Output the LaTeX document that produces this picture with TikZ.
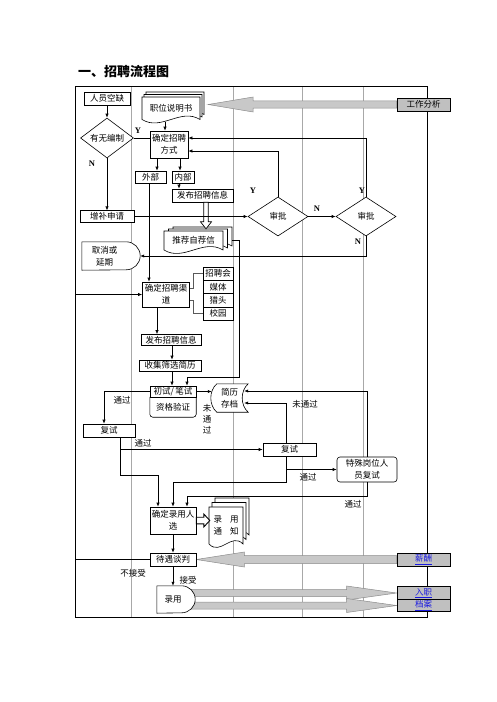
\documentclass[tikz,border=0pt]{standalone}
\usepackage{fontspec}
\setmainfont{Noto Sans CJK SC}
\newfontfamily\latf{Liberation Serif}
\usetikzlibrary{arrows.meta,shapes.geometric,calc}
\pgfdeclarelayer{bg}
\pgfdeclarelayer{mid}
\pgfsetlayers{bg,mid,main}
\definecolor{boxgray}{HTML}{C0C0C0}
\definecolor{arrgray}{HTML}{C8C8C8}
\definecolor{arredge}{HTML}{8C8C8C}
\definecolor{lanegray}{HTML}{A8A8A8}
\definecolor{linkblue}{HTML}{1A1AE0}
\newcommand{\rsonedoc}[4]{%
  \pgfmathsetmacro\rsxa{#1}\pgfmathsetmacro\rsya{#2}%
  \pgfmathsetmacro\rsxb{#3}\pgfmathsetmacro\rsyb{#4}%
  \pgfmathsetmacro\rsw{(\rsxb-\rsxa)/3}%
  \filldraw[docst] (\rsxa,\rsya) -- (\rsxb,\rsya) -- (\rsxb,\rsyb)
    .. controls ({\rsxb-\rsw},{\rsyb-12}) and ({\rsxa+\rsw},{\rsyb+12}) .. (\rsxa,\rsyb) -- cycle;}
\newcommand{\rsdocstack}[6]{%
  \rsonedoc{#1+2*#5}{#2-2*#6}{#3+2*#5}{#4-2*#6}%
  \rsonedoc{#1+#5}{#2-#6}{#3+#5}{#4-#6}%
  \rsonedoc{#1}{#2}{#3}{#4}}
\tikzset{
 bx/.style={draw, fill=white, line width=0.6pt, inner sep=0pt, align=center},
 txt/.style={inner sep=0pt, align=center},
 dm/.style={draw, fill=white, diamond, aspect=1.5, inner sep=0pt, line width=0.6pt},
 arr/.style={draw, line width=0.6pt, -{Latex[length=4pt,width=3.2pt]}},
 ln/.style={draw, line width=0.6pt},
 lbl/.style={inner sep=0pt},
 yn/.style={inner sep=0pt, font=\latf\bfseries\fontsize{8.5}{10}\selectfont},
 gbox/.style={draw, fill=boxgray, line width=0.8pt, inner sep=0pt, minimum width=53pt, minimum height=13pt},
 bigarr/.style={fill=arrgray, draw=arredge, line width=0.5pt},
 hollow/.style={fill=white, draw, line width=0.7pt},
 lane/.style={draw=lanegray, line width=0.5pt},
 brk/.style={draw=black!65, line width=1pt},
 docst/.style={fill=white, draw, line width=0.6pt},
}
\begin{document}
\begin{tikzpicture}[x=1pt,y=-1pt,font=\fontsize{8.5}{12}\selectfont]
\useasboundingbox (0,0) rectangle (496,702);

\node[anchor=west, inner sep=0pt, font=\fontsize{13}{15}\selectfont\bfseries] (title) at (78,72) {一、招聘流程图};

% document stacks
\begin{pgfonlayer}{mid}
\rsdocstack{142}{97}{200}{119.5}{2}{2.5}
\rsdocstack{164}{231}{223}{250}{4.5}{2}
\rsdocstack{209}{507}{243}{544}{3}{4.5}
\end{pgfonlayer}

% nodes
\node[bx, minimum width=46pt, minimum height=13pt] (n1) at (107,98.5) {人员空缺};
\node[txt, minimum width=58pt, minimum height=22pt] (zsm) at (171,108.5) {职位说明书};
\node[dm, minimum width=53pt, minimum height=40pt] (zw) at (107,138) {有无编制};
\node[bx, minimum width=38pt, minimum height=27pt] (jd) at (169,144.5) {确定招聘\\方式};
\node[bx, minimum width=31pt, minimum height=12pt] (wb) at (150.5,177) {外部};
\node[bx, minimum width=22pt, minimum height=12pt] (nb) at (183,177) {内部};
\node[bx, minimum width=61pt, minimum height=13pt] (fb1) at (202.5,195.5) {发布招聘信息};
\node[bx, minimum width=54pt, minimum height=11.5pt] (zb) at (107,216.5) {增补申请};
\node[dm, minimum width=60pt, minimum height=39pt] (sp1) at (278,216.5) {审批};
\node[dm, minimum width=60pt, minimum height=39pt] (sp2) at (366,216.5) {审批};
\node[txt, minimum width=59pt, minimum height=19pt] (tj) at (193.5,240.5) {推荐自荐信};
\node[txt, minimum width=58pt, minimum height=28pt] (qx) at (111,256) {取消或\kern13pt\\延期\kern13pt};
\node[bx, minimum width=47pt, minimum height=25pt] (jq) at (166,294.5) {确定招聘渠\\道};
\node[bx, minimum width=30pt, minimum height=13.3pt] (ch1) at (218,273.7) {招聘会};
\node[bx, minimum width=30pt, minimum height=13.3pt] (ch2) at (218,287) {媒体};
\node[bx, minimum width=30pt, minimum height=13.3pt] (ch3) at (218,300.3) {猎头};
\node[bx, minimum width=30pt, minimum height=13.3pt] (ch4) at (218,313.6) {校园};
\node[bx, minimum width=60pt, minimum height=11pt] (fb2) at (171,340) {发布招聘信息};
\node[bx, minimum width=62pt, minimum height=11pt] (sj) at (170,365.5) {收集筛选简历};
\node[bx, minimum width=46pt, minimum height=11pt] (cs) at (173,391.5) {初试/\,笔试};
\node[txt, minimum width=46pt, minimum height=20pt] (zg) at (173,407) {资格验证};
\node[txt, minimum width=37pt, minimum height=28pt] (jy) at (229.5,398) {简历\\存档};
\node[bx, minimum width=52pt, minimum height=13pt] (fs1) at (109,430.5) {复试};
\node[bx, minimum width=53pt, minimum height=13pt] (fs2) at (289.5,449.5) {复试};
\node[bx, rounded corners=3pt, minimum width=60pt, minimum height=25pt] (ts) at (367,469.5) {特殊岗位人\\员复试};
\node[bx, minimum width=46pt, minimum height=27pt] (ly) at (173,520.5) {确定录用人\\选};
\node[txt, minimum width=34pt, minimum height=37pt] (tz) at (226,525.5) {录\hspace{8pt}用\\通\hspace{8pt}知};
\node[bx, minimum width=46pt, minimum height=13pt] (dy) at (173,559.5) {待遇谈判};
\node[txt, minimum width=38pt, minimum height=27pt] (lu) at (176,599.5) {录用\kern6pt};
\node[gbox] (gz) at (423.5,104.5) {工作分析};
\node[gbox] (xc) at (423.5,559.5) {\textcolor{linkblue}{\underline{薪酬}}};
\node[gbox, minimum height=12.5pt] (rz) at (423.5,593) {\textcolor{linkblue}{\underline{入职}}};
\node[gbox, minimum height=12.5pt] (da) at (423.5,605.5) {\textcolor{linkblue}{\underline{档案}}};

% special shapes
\begin{pgfonlayer}{mid}
\filldraw[docst] (qx.north west) -- ([xshift=-14pt]qx.north east) arc[start angle=90,end angle=-90,radius=14pt] -- (qx.south west) -- cycle;
\filldraw[docst] (lu.north west) -- ([xshift=-13.5pt]lu.north east) arc[start angle=90,end angle=-90,radius=13.5pt] -- (lu.south west) -- cycle;
\filldraw[docst] ([xshift=6pt]jy.north west) -- (jy.north east)
  .. controls ([xshift=-8pt,yshift=-7pt]jy.north east) and ([xshift=-8pt,yshift=7pt]jy.south east) .. (jy.south east)
  -- ([xshift=6pt]jy.south west)
  .. controls ([xshift=-2pt,yshift=7pt]jy.south west) and ([xshift=-2pt,yshift=-7pt]jy.north west) .. ([xshift=6pt]jy.north west) -- cycle;
\filldraw[docst, rounded corners=3pt] (zg.north west) -- (zg.south west) -- (zg.south east) -- (zg.north east);
\end{pgfonlayer}

% background: frame, lanes, big arrows
\begin{pgfonlayer}{bg}
\draw[lane] (131.5,86) -- (131.5,617);
\draw[lane] (233,86) -- (233,617);
\draw[lane] (302,86) -- (302,617);
\draw[lane] (363,86) -- (363,617);
\draw[line width=0.8pt] (75,86) rectangle (427,617);
\path[bigarr] let \p1=(gz.west), \p2=([xshift=8pt]zsm.east) in
  (\x1,\y1+3.7pt) -- (\x2+45pt,\y1+3.7pt) -- (\x2+45pt,\y1+7.5pt) -- (\x2,\y1)
  -- (\x2+45pt,\y1-7.5pt) -- (\x2+45pt,\y1-3.7pt) -- (\x1,\y1-3.7pt) -- cycle;
\path[bigarr] let \p1=(xc.west), \p2=(dy.east) in
  (\x1,\y1+4pt) -- (\x2+48pt,\y1+4pt) -- (\x2+48pt,\y1+7.5pt) -- (\x2,\y1)
  -- (\x2+48pt,\y1-7.5pt) -- (\x2+48pt,\y1-4pt) -- (\x1,\y1-4pt) -- cycle;
\path[bigarr] let \p1=(lu.center), \p2=(rz.west) in
  (\x1,\y2+3.5pt) -- (\x2-50pt,\y2+3.5pt) -- (\x2-50pt,\y2+7pt) -- (\x2,\y2)
  -- (\x2-50pt,\y2-7pt) -- (\x2-50pt,\y2-3.5pt) -- (\x1,\y2-3.5pt) -- cycle;
\path[bigarr] let \p1=(lu.center), \p2=(da.west) in
  (\x1,\y2+3.5pt) -- (\x2-50pt,\y2+3.5pt) -- (\x2-50pt,\y2+7pt) -- (\x2,\y2)
  -- (\x2-50pt,\y2-7pt) -- (\x2-50pt,\y2-3.5pt) -- (\x1,\y2-3.5pt) -- cycle;
\end{pgfonlayer}

% hollow arrows
\filldraw[hollow] let \p1=([xshift=3.5pt]fb1.south), \p2=([yshift=2pt]tj.north) in
  (\x1-2.2pt,\y1) -- (\x1-2.2pt,\y2+7pt) -- (\x1-5.5pt,\y2+7pt) -- (\x1,\y2)
  -- (\x1+5.5pt,\y2+7pt) -- (\x1+2.2pt,\y2+7pt) -- (\x1+2.2pt,\y1) -- cycle;
\filldraw[hollow, line width=0.9pt] let \p1=(ly.east), \p2=([xshift=1pt]tz.west) in
  (\x1,\y1+3.3pt) -- (\x2-6pt,\y1+3.3pt) -- (\x2-6pt,\y1+6.5pt) -- (\x2,\y1)
  -- (\x2-6pt,\y1-6.5pt) -- (\x2-6pt,\y1-3.3pt) -- (\x1,\y1-3.3pt) -- cycle;

% connectors
\draw[arr] (n1.south) -- (zw.north);
\draw[ln] (zw.east) -- (zw.east -| jd.west);
\draw[arr] (zw.south) -- (zb.north);
\draw[arr] ([yshift=-2pt]165,0 |- zsm.south) -- (165,0 |- jd.north);
\draw[arr] (157,0 |- jd.south) -- (157,0 |- wb.north);
\draw[arr] (180,0 |- jd.south) -- (180,0 |- nb.north);
\draw[arr] (179,0 |- nb.south) -- (179,0 |- fb1.north);
\draw[arr] (149,0 |- wb.south) -- (149,0 |- jq.north);
\draw[arr] (zb.east) -- (sp1.west);
\draw[arr] (sp1.north) |- ([yshift=-6.5pt]jd.east);
\draw[arr] (sp2.north) |- ([yshift=6.5pt]jd.east);
\draw[arr] (sp1.east) -- (sp2.west);
\draw[arr] (sp2.south) |- (qx.east);
\draw[arr] ($(tj.east)+(9,0)$) -| (239,377) -| ([xshift=14pt]cs.north);
\draw[brk] ([yshift=6.5pt]jq.east) -- ++(3.5,0) |- (ch1.west);
\draw[brk] ([yshift=-5.5pt]jq.east) -- ++(3.5,0) |- (ch4.west);
\draw[arr] (157,0 |- jq.south) -- (157,0 |- fb2.north);
\draw[arr] (172,0 |- fb2.south) -- (172,0 |- sj.north);
\draw[arr] (172,0 |- sj.south) -- (172,0 |- cs.north);
\draw[arr] (dy.west) -- (75,0 |- dy.west) |- (jq.west);
\draw[arr] (cs.east) -- ([xshift=1pt]cs.east -| jy.west);
\draw[arr] (cs.west) -| ([xshift=-5pt]fs1.north);
\draw[arr] ([xshift=11pt]fs1.south) |- (fs2.west);
\draw[arr] ([xshift=11pt]fs1.south) -- ++(0,38) -| ([xshift=-15pt]ly.north);
\draw[arr] ([xshift=-3.5pt]fs2.north) |- ([xshift=-4pt,yshift=-5pt]jy.east);
\draw[arr] ([xshift=-3.5pt]fs2.south) |- (ts.west);
\draw[arr] ([xshift=-3.5pt]fs2.south) -- ++(0,26) -| (ly.north);
\draw[arr] (ts.north) |- ([xshift=-4pt,yshift=7pt]jy.east);
\draw[arr] (ts.south) -- ++(0,14) -| ([xshift=14pt]ly.north);
\draw[arr] (ly.south) -- (dy.north);
\draw[arr] (dy.south) -- (dy.south |- lu.north);

% labels
\node[yn] (ya) at (138,131) {Y};
\node[yn] (na) at (92,164) {N};
\node[yn] (yb) at (253,191) {Y};
\node[yn] (yc) at (362,191) {Y};
\node[yn] (nb2) at (317,209) {N};
\node[yn] (nc) at (358,242) {N};
\node[lbl] (t1) at (122,400) {通过};
\node[lbl, align=center, font=\fontsize{8.5}{11}\selectfont] (t2) at (207,419) {未\\通\\过};
\node[lbl] (t3) at (143,443) {通过};
\node[lbl] (t4) at (305,404) {未通过};
\node[lbl] (t5) at (308,477) {通过};
\node[lbl] (t6) at (353,504) {通过};
\node[lbl] (t7) at (133,573) {不接受};
\node[lbl] (t8) at (188,580) {接受};
\end{tikzpicture}
\end{document}
